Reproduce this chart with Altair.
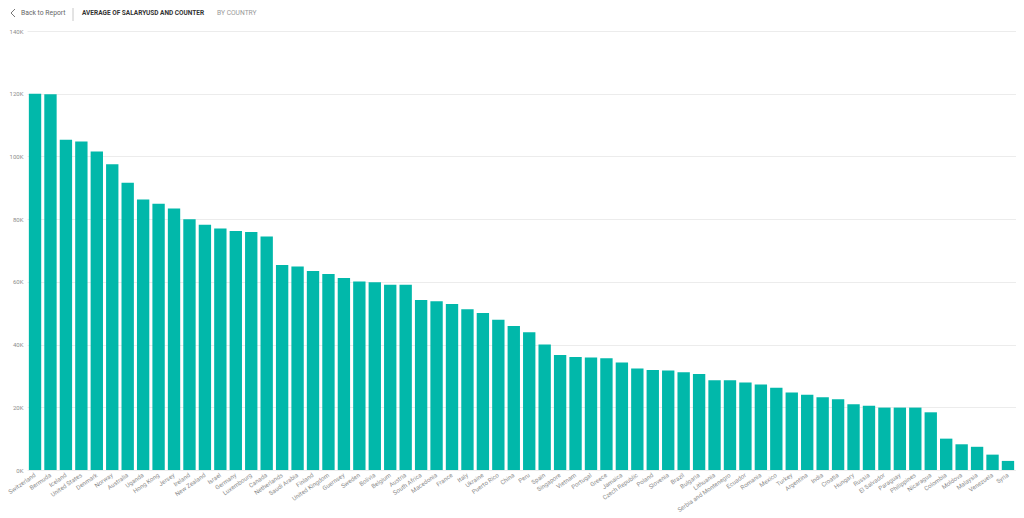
import altair as alt
import pandas as pd

countries = [
    "Switzerland", "Bermuda", "Iceland", "United States", "Denmark", "Norway",
    "Australia", "Uganda", "Hong Kong", "Jersey", "Ireland", "New Zealand",
    "Israel", "Germany", "Luxembourg", "Canada", "Netherlands", "Saudi Arabia",
    "Finland", "United Kingdom", "Guernsey", "Sweden", "Bolivia", "Belgium",
    "Austria", "South Africa", "Macedonia", "France", "Italy", "Ukraine",
    "Puerto Rico", "China", "Peru", "Spain", "Singapore", "Vietnam",
    "Portugal", "Greece", "Jamaica", "Czech Republic", "Poland", "Slovenia",
    "Brazil", "Bulgaria", "Lithuania", "Serbia and Montenegro", "Ecuador",
    "Romania", "Mexico", "Turkey", "Argentina", "India", "Croatia", "Hungary",
    "Russia", "El Salvador", "Paraguay", "Philippines", "Nicaragua",
    "Colombia", "Moldova", "Malaysia", "Venezuela", "Syria",
]

avg_salary_k = [
    120.0, 119.8, 105.3, 104.8, 101.6, 97.5,
    91.6, 86.3, 84.9, 83.4, 80.0, 78.2,
    77.0, 76.2, 75.9, 74.5, 65.4, 64.9,
    63.5, 62.5, 61.2, 60.1, 59.9, 59.1,
    59.1, 54.2, 53.8, 52.9, 51.3, 50.1,
    47.9, 45.9, 43.9, 40.0, 36.7, 36.0,
    35.9, 35.6, 34.3, 32.4, 31.9, 31.7,
    31.2, 30.6, 28.6, 28.6, 27.9,
    27.3, 26.2, 24.7, 24.0, 23.2, 22.6, 21.0,
    20.5, 19.9, 19.9, 19.9, 18.4,
    10.0, 8.2, 7.4, 4.9, 2.9,
]

y_ticks = [0, 20000, 40000, 60000, 80000, 100000, 120000, 140000]

title_main = "AVERAGE OF SALARYUSD AND COUNTER"
title_sub = "BY COUNTRY"
back_text = "Back to Report"

df = pd.DataFrame({
    "Country": countries,
    "AvgSalaryUSD": [v * 1000 for v in avg_salary_k],
})

W, H = 989, 439
TEAL = "#01B8AA"
FONT = "Roboto"
PL = 19  # left padding
PT = 23  # top padding

bars = alt.Chart(df).mark_bar(color=TEAL).encode(
    x=alt.X(
        "Country:N",
        sort=countries,
        title=None,
        scale=alt.Scale(paddingInner=0.2, paddingOuter=0.12),
        axis=alt.Axis(
            labelAngle=325, labelAlign="right", labelBaseline="middle",
            labelFontSize=6.1, labelColor="#8c8c8c", labelFont=FONT,
            ticks=False, domain=False, labelPadding=4,
            labelOverlap=False, labelBound=False, labelLimit=200,
        ),
    ),
    y=alt.Y(
        "AvgSalaryUSD:Q",
        title=None,
        scale=alt.Scale(domain=[0, 140000], nice=False),
        axis=alt.Axis(
            values=y_ticks, labelExpr="datum.value / 1000 + 'K'",
            labelFontSize=6, labelColor="#8c8c8c", labelFont=FONT,
            ticks=False, domain=False, labelPadding=4,
            grid=True, gridColor="#ececec", gridWidth=1,
        ),
    ),
)

dx = 25 - (8 + PL)  # header positions were measured from page x 25

back = alt.Chart(pd.DataFrame({"t": [back_text]})).mark_text(
    align="left", baseline="middle", font=FONT, fontSize=6.8, color="#666666"
).encode(x=alt.value(-4 + dx), y=alt.value(-18), text="t:N")

chev1 = alt.Chart(pd.DataFrame({"a": [0]})).mark_rule(color="#777777", strokeWidth=1).encode(
    x=alt.value(-10 + dx), y=alt.value(-22), x2=alt.value(-14 + dx), y2=alt.value(-18)
)
chev2 = alt.Chart(pd.DataFrame({"a": [0]})).mark_rule(color="#777777", strokeWidth=1).encode(
    x=alt.value(-14 + dx), y=alt.value(-18), x2=alt.value(-10 + dx), y2=alt.value(-14)
)
sep = alt.Chart(pd.DataFrame({"a": [0]})).mark_rule(color="#c8c8c8", strokeWidth=1).encode(
    x=alt.value(48 + dx), y=alt.value(-23), y2=alt.value(-10)
)
t_main = alt.Chart(pd.DataFrame({"t": [title_main]})).mark_text(
    align="left", baseline="middle", font=FONT, fontSize=6.5, fontWeight="bold", color="#333333"
).encode(x=alt.value(57 + dx), y=alt.value(-18), text="t:N")
t_sub = alt.Chart(pd.DataFrame({"t": [title_sub]})).mark_text(
    align="left", baseline="middle", font=FONT, fontSize=6.7, color="#999999"
).encode(x=alt.value(192 + dx), y=alt.value(-18), text="t:N")

chart = alt.layer(bars, back, chev1, chev2, sep, t_main, t_sub).properties(
    width=W, height=H,
    autosize=alt.AutoSizeParams(type="none"),
    padding={"left": PL, "top": PT, "right": 0, "bottom": 42},
    background="white",
).configure_view(stroke=None)

chart.save("out.html", embed_options={"renderer": "svg", "actions": False})
